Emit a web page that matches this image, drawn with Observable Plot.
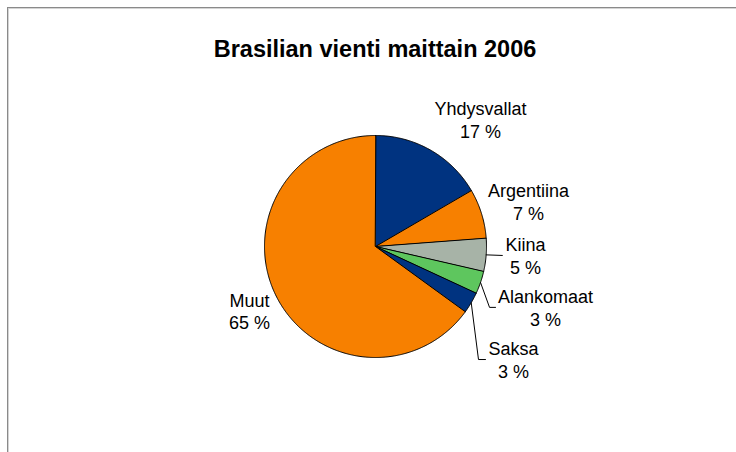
<!DOCTYPE html>
<html>
<head>
<meta charset="utf-8">
<script src="https://cdn.jsdelivr.net/npm/d3@7"></script>
<script src="https://cdn.jsdelivr.net/npm/@observablehq/plot@0.6"></script>
<style>
  html, body { margin: 0; padding: 0; background: #fff; overflow: hidden; }
  #wrap { position: relative; width: 736px; height: 452px; }
  #border { position: absolute; left: 7px; top: 7px; width: 900px; height: 900px;
            border-left: 1px solid #8a8a8a; border-top: 1px solid #8a8a8a;
            box-shadow: inset 1px 1px 0 #d4d4d4; }
  #chart { position: absolute; left: 0; top: 0; }
  svg { font-family: "Liberation Sans", Arial, sans-serif; }
</style>
</head>
<body>
<div id="wrap"><div id="border"></div><div id="chart"></div></div>
<script>
// ---- data ----
const title = "Brasilian vienti maittain 2006";
const names = ["Yhdysvallat", "Argentiina", "Kiina", "Alankomaat", "Saksa", "Muut"];
const shares = [16.6, 7.2, 4.8, 3.3, 3.1, 65.0];
const colors = ["#003380", "#F78000", "#A7B3A7", "#5EC65E", "#003380", "#F78000"];

// ---- layout (not data) ----
const cx = 375, cy = 246, R = 111;
const labelRadius = [1.485, 1.437, 1.354, 1.627, 1.607, 1.273];
const labelTurn = [9.7, 0.9, -0.9, 0.8, 8.9, 0];        // degrees
const leaderElbow = [null, null, -23, -56, -35, null];    // px from label centre
const leaderEnd = [null, null, -23, -50, -28, null];

const total = d3.sum(shares);
const rad = Math.PI / 180;
let acc = 0;
const slices = names.map((name, i) => {
  const a0 = acc / total * 360;
  acc += shares[i];
  const a1 = acc / total * 360;
  return {name, i, a0, a1, mid: (a0 + a1) / 2};
});

// slice polygons (centre + arc)
const piePts = [];
for (const s of slices) {
  piePts.push({name: s.name, x: 0, y: 0});
  const n = Math.max(2, Math.ceil((s.a1 - s.a0) / 0.5));
  for (let k = 0; k <= n; k++) {
    const a = (s.a0 + (s.a1 - s.a0) * k / n) * rad;
    piePts.push({name: s.name, x: Math.sin(a), y: Math.cos(a)});
  }
}

// labels
const labels = slices.map(s => {
  const a = (s.mid + labelTurn[s.i]) * rad;
  const r = labelRadius[s.i];
  return {name: s.name, x: r * Math.sin(a), y: r * Math.cos(a),
          text: s.name + "\n" + Math.round(shares[s.i] / total * 100) + " %"};
});

// leader lines
const leaderPts = [];
for (const s of slices) {
  if (leaderEnd[s.i] == null) continue;
  const L = labels[s.i];
  const a = s.mid * rad;
  leaderPts.push({name: s.name, x: Math.sin(a), y: Math.cos(a)});
  leaderPts.push({name: s.name, x: L.x + leaderElbow[s.i] / R, y: L.y});
  leaderPts.push({name: s.name, x: L.x + leaderEnd[s.i] / R, y: L.y});
}

const chart = Plot.plot({
  width: 736, height: 452,
  margin: 0,
  x: {domain: [-1, 1], range: [cx - R, cx + R], axis: null},
  y: {domain: [-1, 1], range: [cy + R, cy - R], axis: null},
  color: {domain: names, range: colors},
  style: {background: "transparent", fontFamily: "'Liberation Sans', Arial, sans-serif"},
  marks: [
    Plot.line(piePts, {x: "x", y: "y", z: "name", fill: "name", stroke: "black",
                       strokeWidth: 1, curve: "linear-closed", strokeLinejoin: "round"}),
    Plot.line(leaderPts, {x: "x", y: "y", z: "name", stroke: "black", strokeWidth: 1}),
    Plot.text(labels, {x: "x", y: "y", text: "text", fill: "black", fontSize: 18,
                       lineHeight: 1.27, textAnchor: "middle"}),
    Plot.text([title], {frameAnchor: "top", dx: 6.5, dy: 40, text: d => d, fill: "black",
                        fontSize: 23.5, fontWeight: "bold"})
  ]
});
document.getElementById("chart").appendChild(chart);
</script>
</body>
</html>
